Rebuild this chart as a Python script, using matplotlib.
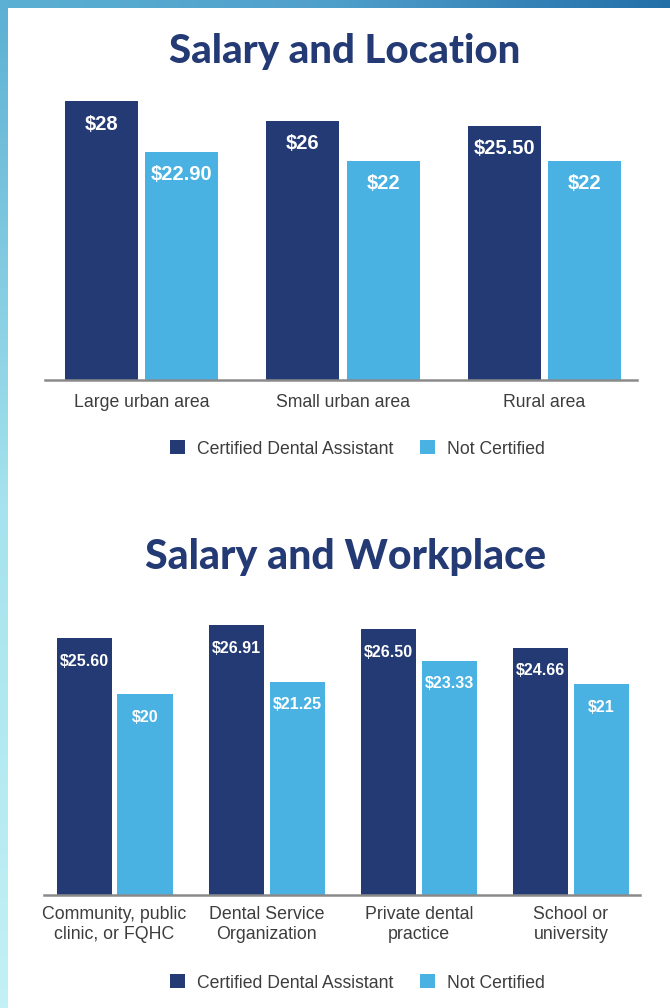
import numpy as np
import matplotlib.pyplot as plt
from matplotlib.colors import LinearSegmentedColormap
from matplotlib import font_manager

# Data
loc_categories = ['Large urban area', 'Small urban area', 'Rural area']
loc_certified = [28.00, 26.00, 25.50]
loc_not_certified = [22.90, 22.00, 22.00]
loc_cert_labels = ['$28', '$26', '$25.50']
loc_not_labels = ['$22.90', '$22', '$22']

work_categories = ['Community, public\nclinic, or FQHC', 'Dental Service\nOrganization',
                   'Private dental\npractice', 'School or\nuniversity']
work_certified = [25.60, 26.91, 26.50, 24.66]
work_not_certified = [20.00, 21.25, 23.33, 21.00]
work_cert_labels = ['$25.60', '$26.91', '$26.50', '$24.66']
work_not_labels = ['$20', '$21.25', '$23.33', '$21']

series_names = ['Certified Dental Assistant', 'Not Certified']

NAVY = '#243a74'
LIGHT = '#49b2e3'
TEXT = '#3d3d3d'

installed = {f.name for f in font_manager.fontManager.ttflist}
narrow = 'Liberation Sans Narrow' if 'Liberation Sans Narrow' in installed else 'Liberation Sans'
title_font = 'Lato' if 'Lato' in installed else 'DejaVu Sans'

W, H = 670, 1008
fig = plt.figure(figsize=(W / 100, H / 100), dpi=100)
fig.patch.set_facecolor('white')


def px_axes(x0, y0, x1, y1):
    # pixel box (top-left origin) -> figure axes
    return fig.add_axes([x0 / W, 1 - y1 / H, (x1 - x0) / W, (y1 - y0) / H])


# gradient border strips
top_cmap = LinearSegmentedColormap.from_list('top', ['#5cb0d3', '#4f9fcb', '#226fa8'])
left_cmap = LinearSegmentedColormap.from_list('left', ['#5cb0d3', '#a5e3ee', '#c3f1f5'])
ax_top = px_axes(0, 0, W, 8)
ax_top.imshow(np.linspace(0, 1, 256)[None, :], cmap=top_cmap, aspect='auto')
ax_top.axis('off')
ax_left = px_axes(0, 0, 8, H)
ax_left.imshow(np.linspace(0, 1, 256)[:, None], cmap=left_cmap, aspect='auto')
ax_left.axis('off')


def draw_chart(box, title_y, title, title_size, cats, cert, notc, cert_lbl, not_lbl,
               xlim, ytop, value_size, tick_size, tick_pad, legend_y):
    ax = px_axes(*box)
    x = np.arange(len(cats))
    w = 0.362
    b1 = ax.bar(x - 0.2, cert, w, color=NAVY, label=series_names[0])
    b2 = ax.bar(x + 0.2, notc, w, color=LIGHT, label=series_names[1])
    for bars, labels in ((b1, cert_lbl), (b2, not_lbl)):
        for rect, lbl in zip(bars, labels):
            ax.annotate(lbl, (rect.get_x() + rect.get_width() / 2, rect.get_height()),
                        xytext=(0, -16.5), textcoords='offset points',
                        ha='center', va='center', color='white',
                        fontsize=value_size, fontweight='bold', family=narrow)
    ax.set_xlim(*xlim)
    ax.set_ylim(0, ytop)
    ax.set_xticks(x)
    ax.set_xticklabels(cats, fontsize=tick_size, color=TEXT, family=narrow,
                       linespacing=1.2)
    ax.tick_params(axis='x', length=0, pad=tick_pad)
    ax.set_yticks([])
    for s in ('top', 'right', 'left'):
        ax.spines[s].set_visible(False)
    ax.spines['bottom'].set_color('#8a8a8a')
    ax.spines['bottom'].set_linewidth(1.8)

    fig.text(345 / W, 1 - title_y / H, title, ha='center', va='center',
             fontsize=title_size, fontweight='black', color=NAVY, family=title_font)

    fig.legend(handles=[b1, b2], loc='center', bbox_to_anchor=(357.5 / W, 1 - legend_y / H),
               ncol=2, frameon=False, handlelength=0.85, handleheight=0.85,
               handletextpad=0.68, columnspacing=1.53,
               prop={'family': narrow, 'size': 12.7}, labelcolor=TEXT)


draw_chart((45, 85, 637, 380), 52, 'Salary and Location', 29, loc_categories,
           loc_certified, loc_not_certified, loc_cert_labels, loc_not_labels,
           (-0.48, 2.46), 295 / 9.96, 14.5, 12.7, 10, 449)

draw_chart((44, 610, 640, 895), 557, 'Salary and Workplace', 29.5, work_categories,
           work_certified, work_not_certified, work_cert_labels, work_not_labels,
           (-0.464, 3.454), 285 / 10.03, 11.5, 12.8, 8, 983)

fig.savefig('out.png', dpi=100)
